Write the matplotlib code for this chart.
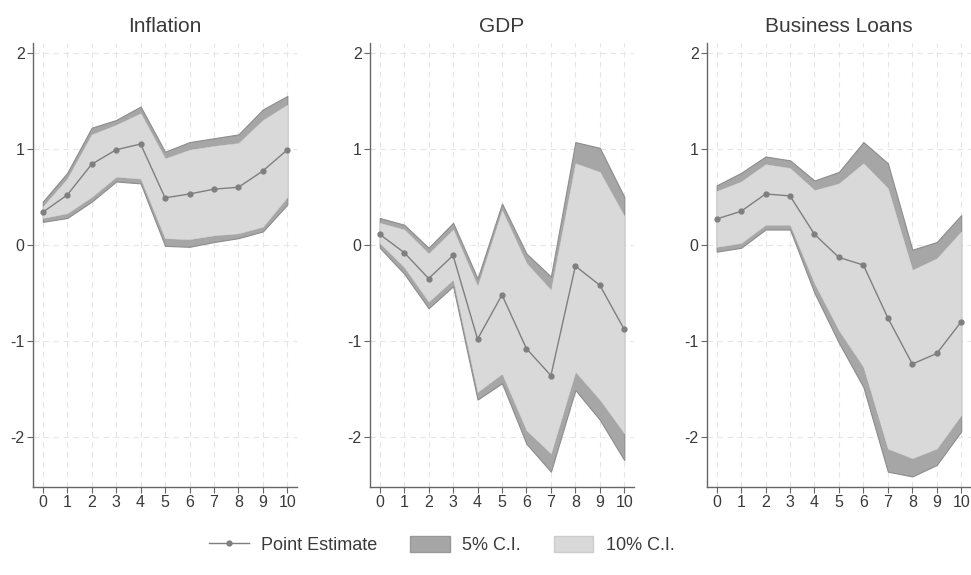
import matplotlib
matplotlib.use("Agg")
import matplotlib.pyplot as plt
from matplotlib.lines import Line2D
from matplotlib.patches import Patch

plt.rcParams['font.family'] = ['Liberation Sans', 'DejaVu Sans']
plt.rcParams['axes.unicode_minus'] = False

horizons = list(range(11))
titles = ["Inflation", "GDP", "Business Loans"]

# Inflation
infl_point = [0.34, 0.52, 0.84, 0.99, 1.05, 0.49, 0.53, 0.58, 0.60, 0.77, 0.99]
infl_hi5 = [0.45, 0.75, 1.22, 1.30, 1.44, 0.97, 1.07, 1.11, 1.15, 1.41, 1.55]
infl_hi10 = [0.40, 0.69, 1.15, 1.25, 1.37, 0.90, 0.99, 1.03, 1.06, 1.30, 1.46]
infl_lo10 = [0.28, 0.33, 0.50, 0.71, 0.69, 0.07, 0.06, 0.10, 0.12, 0.19, 0.50]
infl_lo5 = [0.24, 0.28, 0.45, 0.66, 0.64, -0.01, -0.02, 0.03, 0.07, 0.14, 0.42]

# GDP
gdp_point = [0.11, -0.08, -0.35, -0.11, -0.98, -0.52, -1.08, -1.36, -0.22, -0.42, -0.88]
gdp_hi5 = [0.28, 0.21, -0.03, 0.23, -0.35, 0.43, -0.09, -0.33, 1.07, 1.01, 0.50]
gdp_hi10 = [0.23, 0.16, -0.09, 0.16, -0.43, 0.36, -0.19, -0.47, 0.85, 0.76, 0.30]
gdp_lo10 = [0.02, -0.23, -0.59, -0.36, -1.53, -1.34, -1.93, -2.17, -1.32, -1.61, -1.96]
gdp_lo5 = [-0.03, -0.30, -0.66, -0.43, -1.61, -1.44, -2.07, -2.36, -1.51, -1.82, -2.24]

# Business loans
loans_point = [0.27, 0.35, 0.53, 0.51, 0.11, -0.13, -0.21, -0.76, -1.24, -1.13, -0.80]
loans_hi5 = [0.62, 0.75, 0.92, 0.88, 0.67, 0.76, 1.07, 0.85, -0.05, 0.03, 0.31]
loans_hi10 = [0.56, 0.66, 0.84, 0.80, 0.57, 0.64, 0.85, 0.59, -0.26, -0.14, 0.14]
loans_lo10 = [-0.02, 0.02, 0.21, 0.21, -0.40, -0.89, -1.27, -2.12, -2.22, -2.12, -1.77]
loans_lo5 = [-0.07, -0.03, 0.16, 0.16, -0.50, -1.02, -1.48, -2.36, -2.41, -2.29, -1.94]

series = [
    (infl_point, infl_lo5, infl_hi5, infl_lo10, infl_hi10),
    (gdp_point, gdp_lo5, gdp_hi5, gdp_lo10, gdp_hi10),
    (loans_point, loans_lo5, loans_hi5, loans_lo10, loans_hi10),
]

dark_fill = "#a6a6a6"
dark_edge = "#8c8c8c"
light_fill = "#d9d9d9"
line_col = "#7f7f7f"
axis_col = "#666666"
text_col = "#3a3a3a"

fig = plt.figure(figsize=(9.71, 5.75), dpi=100)
lefts = [0.034, 0.381, 0.728]
for i, (title, (pt, lo5, hi5, lo10, hi10)) in enumerate(zip(titles, series)):
    ax = fig.add_axes([lefts[i], 0.153, 0.272, 0.772])
    ax.set_xlim(-0.4, 10.4)
    ax.set_ylim(-2.52, 2.1)
    ax.set_xticks(horizons)
    ax.set_yticks([-2, -1, 0, 1, 2])
    ax.grid(True, color="#e6e6e6", linestyle=(0, (5, 4)), linewidth=0.8)
    ax.set_axisbelow(True)
    ax.fill_between(horizons, lo5, hi5, facecolor=dark_fill, edgecolor=dark_edge,
                    linewidth=0.8, zorder=2)
    ax.fill_between(horizons, lo10, hi10, facecolor=light_fill, edgecolor=light_fill,
                    linewidth=0.3, zorder=3)
    ax.plot(horizons, pt, color=line_col, linewidth=1.0, marker="o", markersize=3.5,
            markerfacecolor=line_col, markeredgecolor=line_col, zorder=4)
    for s in ("top", "right"):
        ax.spines[s].set_visible(False)
    for s in ("left", "bottom"):
        ax.spines[s].set_color(axis_col)
        ax.spines[s].set_linewidth(1.0)
    ax.tick_params(colors=axis_col, labelcolor=text_col, labelsize=11.5, length=4,
                   width=0.8, pad=2)
    ax.set_title(title, fontsize=15, color=text_col, pad=8)

handles = [
    Line2D([0], [0], color=line_col, linewidth=1.0, marker="o", markersize=3.5),
    Patch(facecolor=dark_fill, edgecolor="#999999"),
    Patch(facecolor=light_fill, edgecolor="#cccccc"),
]
labels = ["Point Estimate", "5% C.I.", "10% C.I."]
fig.legend(handles, labels, loc="center", bbox_to_anchor=(0.455, 0.052), ncol=3,
           frameon=False, fontsize=13, handlelength=2.2, handleheight=1.0,
           columnspacing=1.8, handletextpad=0.7, labelcolor=text_col)

fig.savefig("out.png", dpi=100, facecolor="white")
